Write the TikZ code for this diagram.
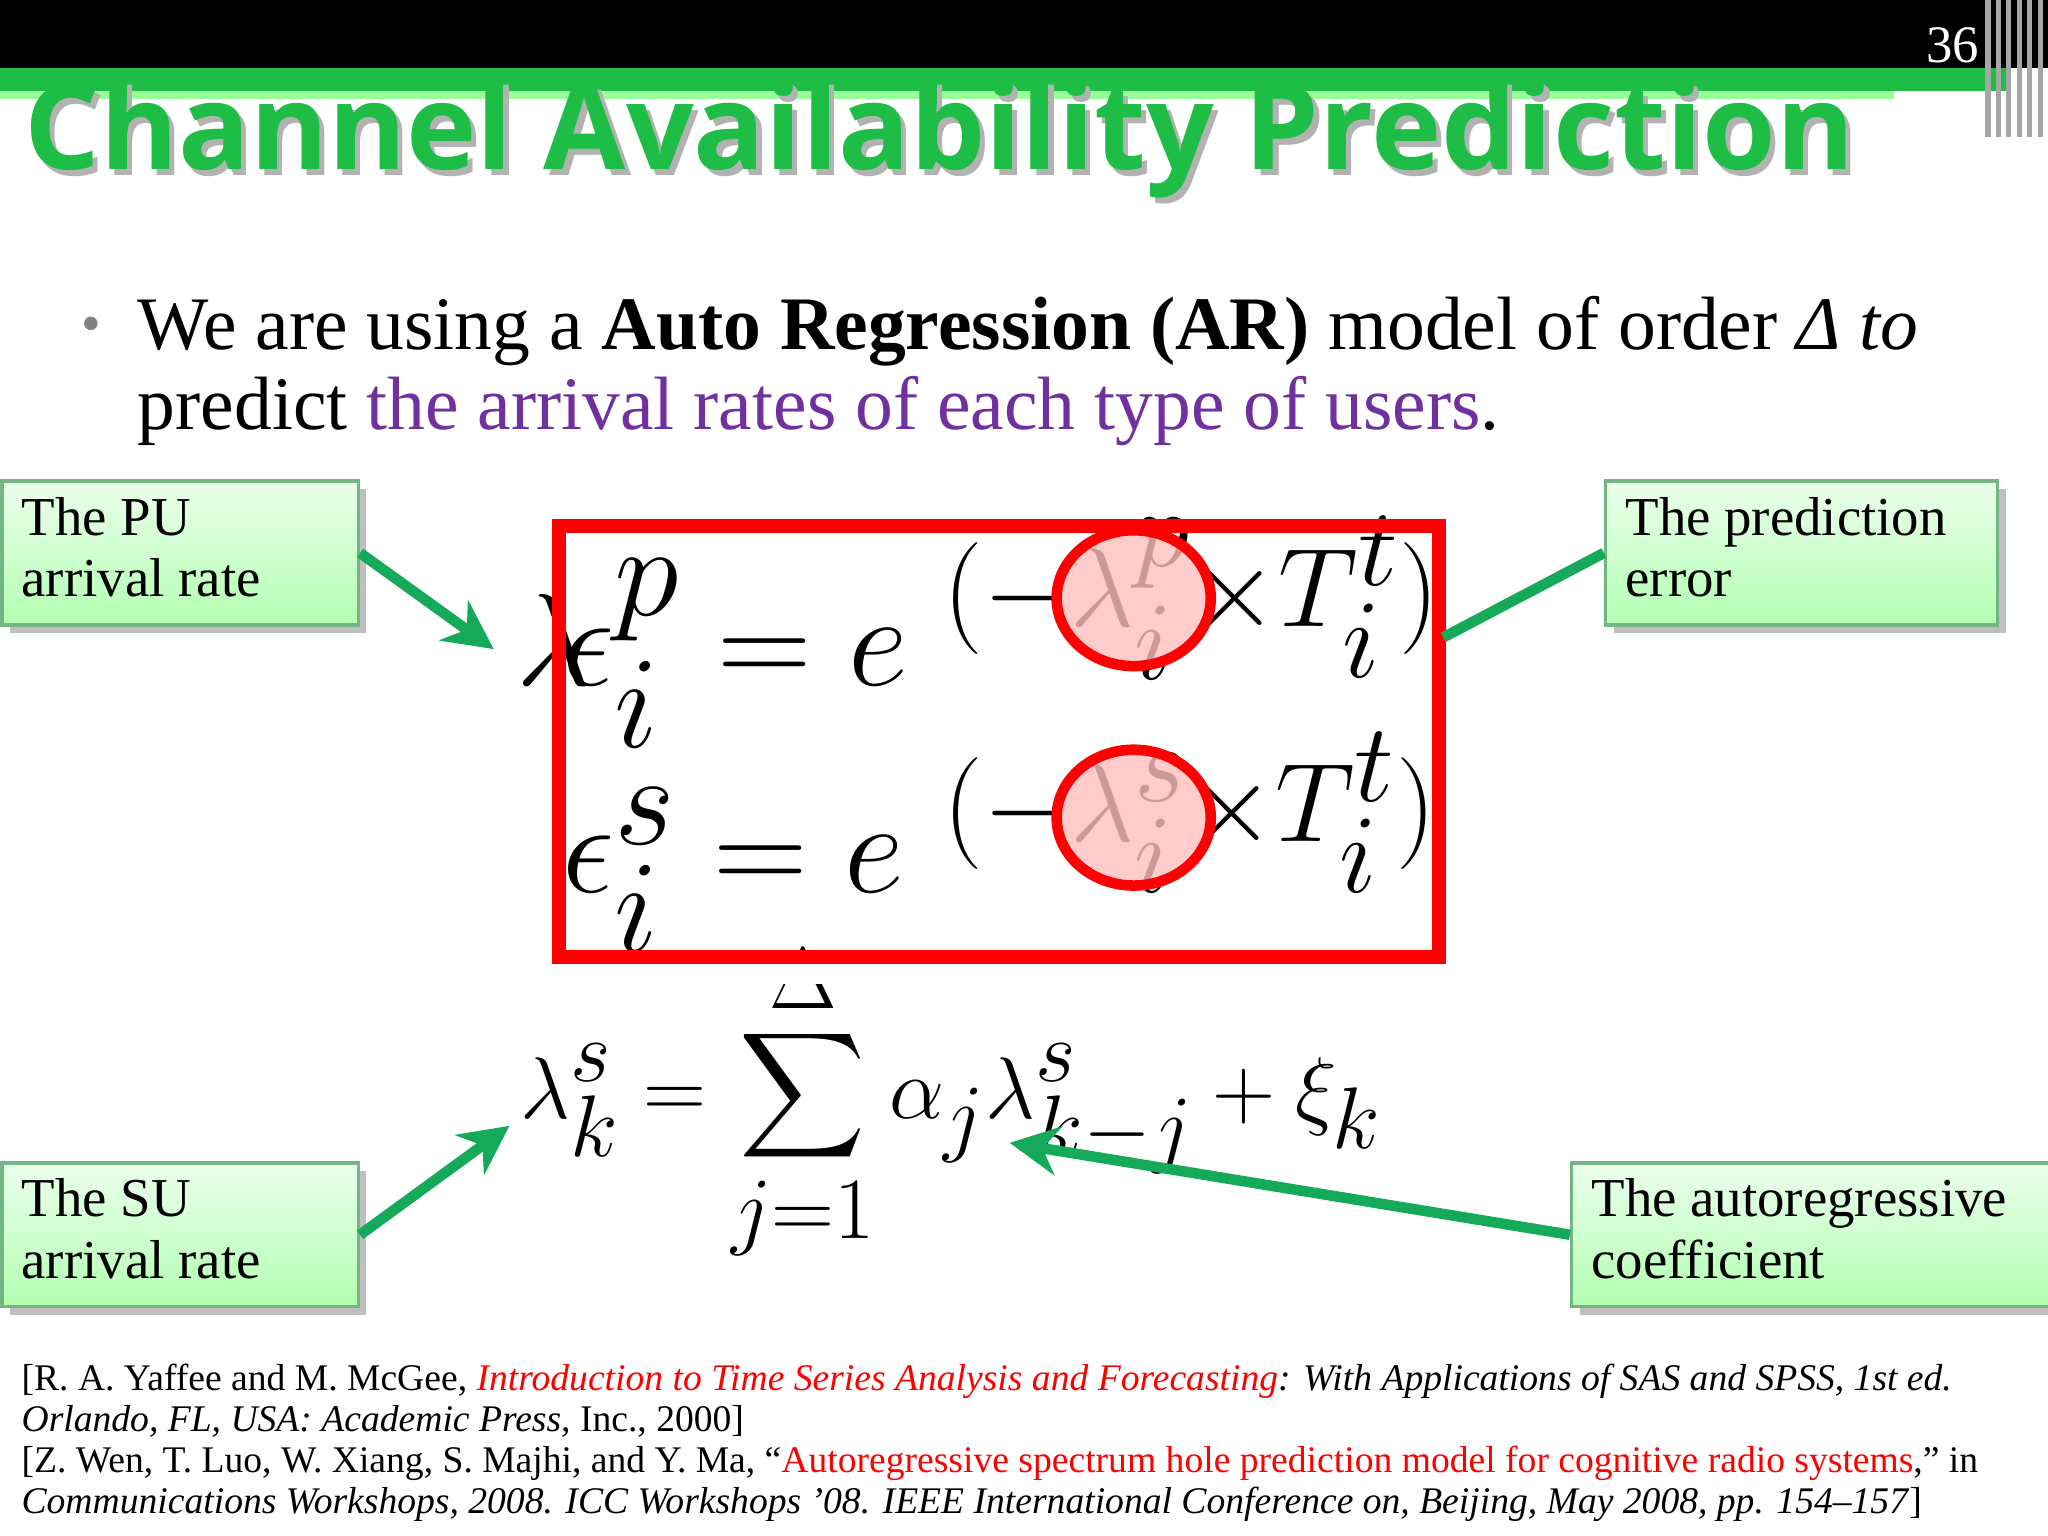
\documentclass[tikz,border=0pt]{standalone}
\usepackage{fontspec}
\usepackage{amsmath}
\usepackage{graphicx}
\setmainfont{Liberation Serif}
\newfontfamily\titlefont{Open Sans}
\usetikzlibrary{arrows.meta,shadows}
\definecolor{tgreen}{RGB}{30,190,70}
\definecolor{agreen}{RGB}{20,170,90}
\definecolor{purp}{RGB}{112,48,160}
\tikzset{
 lbl/.style={draw=tgreen!70!black!60,line width=1pt,top color=green!8,bottom color=green!30!white,inner sep=0pt,anchor=north west},
 lbltext/.style={anchor=north west,align=left,font=\fontsize{15.6}{17.5}\selectfont,inner sep=0pt},
 arr/.style={draw=agreen,line width=3pt,-{Stealth[length=14pt,width=14pt]}},
 circ/.style={draw=red,line width=3pt,fill=red!25,fill opacity=0.8},
 eqbig/.style={anchor=base west,inner sep=0pt,font=\fontsize{84}{84}\selectfont},
 eqexp/.style={anchor=west,inner sep=0pt,font=\fontsize{84}{84}\selectfont}
}
\begin{document}
\begin{tikzpicture}[x=0.013061cm,y=-0.013061cm]
\useasboundingbox (0,0) rectangle (1568,1176);
\fill[white] (0,0) rectangle (1568,1176);
% header
\fill[black] (0,0) rectangle (1568,52);
\fill[tgreen] (0,52) rectangle (1540,70);
\fill[green!40] (0,70) rectangle (1450,76);
\foreach \x in {1522,1530,1538,1546,1554,1562} \draw[gray!70,line width=1.5pt] (\x,0)--(\x,105);
\node[text=white,font=\fontsize{15}{15}\selectfont,anchor=base] (num) at (1495,48) {36};
\node[anchor=base west,inner sep=0pt,text=black!30] (tsh) at (22,134) {\resizebox{18.3cm}{!}{\titlefont\bfseries Channel Availability Prediction}};
\node[anchor=base west,inner sep=0pt,text=tgreen] (title) at (18,130) {\resizebox{18.3cm}{!}{\titlefont\bfseries Channel Availability Prediction}};
% bullet
\node[text=gray,font=\fontsize{16}{16}\selectfont,anchor=base] (bul) at (70,262) {•};
\node[anchor=north west,inner sep=0pt,align=left,font=\fontsize{21.5}{23}\selectfont] (bt) at (105,226) {We are using a \textbf{Auto Regression (AR)} model of order {\itshape Δ to}\\predict \textcolor{purp}{the arrival rates of each type of users}.};
% equations
\node[anchor=base west,inner sep=0pt,font=\fontsize{54}{54}\selectfont] (e3) at (398,856) {$\displaystyle\lambda_k^s = \sum_{j=1}^{\Delta}\alpha_j\lambda_{k-j}^s+\xi_k$};
\fill[white] (420,734) rectangle (1110,753);
\node[eqbig] (lam) at (395,525) {\scalebox{1.5}{$\lambda$}};
\node[eqbig] (e1) at (430,525) {\scalebox{1.5}{$\epsilon_i^p = e$}};
\node[eqexp] (x1) at (722,458) {\scalebox{1.28}{$\scriptstyle(-\lambda_i^p\times T_i^t)$}};
\node[eqbig] (e2) at (430,683) {\scalebox{1.5}{$\epsilon_i^s = e$}};
\node[eqexp] (x2) at (722,622) {\scalebox{1.28}{$\scriptstyle(-\lambda_i^s\times T_i^t)$}};
\draw[red,line width=4pt] (428,403) rectangle (1102,733);
\draw[circ] (868,458) ellipse (59 and 52);
\draw[circ] (868,626) ellipse (59 and 52);
% label boxes
\node[lbl,minimum width=273*0.013061cm,minimum height=110*0.013061cm,drop shadow] (pu) at (0,367) {};
\node[lbltext] at (16,380) {The PU\\arrival rate};
\node[lbl,minimum width=300*0.013061cm,minimum height=110*0.013061cm,drop shadow] (pe) at (1228,367) {};
\node[lbltext] at (1244,380) {The prediction\\error};
\node[lbl,minimum width=273*0.013061cm,minimum height=110*0.013061cm,drop shadow] (su) at (0,889) {};
\node[lbltext] at (16,902) {The SU\\arrival rate};
\node[lbl,minimum width=366*0.013061cm,minimum height=110*0.013061cm,drop shadow] (ac) at (1202,889) {};
\node[lbltext] at (1218,902) {The autoregressive\\coefficient};
% arrows
\coordinate (a1) at (378,497);
\coordinate (a2) at (1105,488);
\coordinate (a3) at (390,862);
\coordinate (a4) at (773,875);
\draw[arr] (pu.east) -- (a1);
\draw[draw=agreen,line width=3pt] (pe.west) -- (a2);
\draw[arr] (su.east) -- (a3);
\draw[arr] (ac.west) -- (a4);
% references
\node[anchor=north west,inner sep=0pt,align=left,font=\fontsize{10.7}{11.6}\selectfont] (refs) at (16,1044) {[R. A. Yaffee and M. McGee, \textit{\textcolor{red}{Introduction to Time Series Analysis and Forecasting}: With Applications of SAS and SPSS, 1st ed.}\\\textit{Orlando, FL, USA: Academic Press,} Inc., 2000]\\{}[Z. Wen, T. Luo, W. Xiang, S. Majhi, and Y. Ma, ``\textcolor{red}{Autoregressive spectrum hole prediction model for cognitive radio systems},'' in\\\textit{Communications Workshops, 2008. ICC Workshops '08. IEEE International Conference on, Beijing, May 2008, pp. 154--157}]};
\end{tikzpicture}
\end{document}
